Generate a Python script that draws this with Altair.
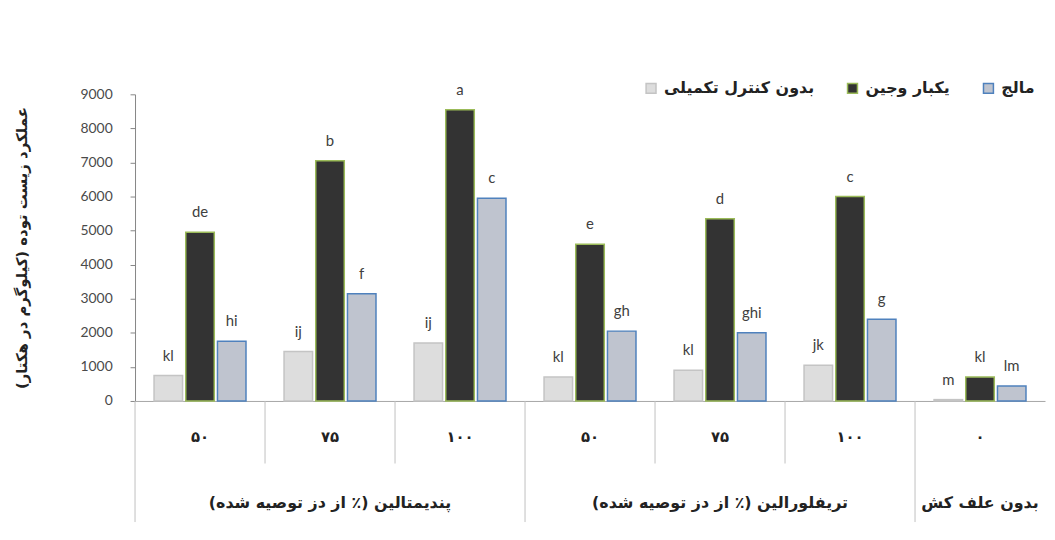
import altair as alt
import pandas as pd

# ---------------- data ----------------
groups = ["p50", "p75", "p100", "t50", "t75", "t100", "n0"]
group_labels = ["۵۰", "۷۵", "۱۰۰", "۵۰", "۷۵", "۱۰۰", "۰"]
series = ["بدون کنترل تکمیلی", "یکبار وجین", "مالج"]
no_control = [750, 1450, 1700, 700, 900, 1050, 40]
once_weeding = [4950, 7050, 8550, 4600, 5350, 6000, 700]
weed_free = [1750, 3150, 5950, 2050, 2000, 2400, 440]
letters_nc = ["kl", "ij", "ij", "kl", "kl", "jk", "m"]
letters_ow = ["de", "b", "a", "e", "d", "c", "kl"]
letters_wf = ["hi", "f", "c", "gh", "ghi", "g", "lm"]
outer_keys = ["p75", "t75", "n0"]
outer_labels = [
    "پندیمتالین (٪ از دز توصیه شده)\u200f",
    "تریفلورالین (٪ از دز توصیه شده)\u200f",
    "بدون علف کش",
]
sep_keys = groups
sep_long = [True, False, False, True, False, False, True]
y_ticks = [0, 1000, 2000, 3000, 4000, 5000, 6000, 7000, 8000, 9000]
y_title = "عملکرد زیست توده (کیلوگرم در هکتار)\u200f"

# ---------------- tables ----------------
rows = []
for vals, lets, s in [(no_control, letters_nc, series[0]),
                      (once_weeding, letters_ow, series[1]),
                      (weed_free, letters_wf, series[2])]:
    for g, v, l in zip(groups, vals, lets):
        rows.append({"cat": g, "series": s, "value": v, "letter": l})
bars_df = pd.DataFrame(rows)
inner_df = pd.DataFrame({"cat": groups, "label": group_labels})
outer_df = pd.DataFrame({"cat": outer_keys, "label": outer_labels})
sep_df = pd.DataFrame({"cat": sep_keys, "long": sep_long})

PH = 309
PW = 917
FA = "DejaVu Sans"

fill_range = ["#dddddd", "#333333", "#bfc4cf"]
stroke_range = ["#c4c4c4", "#9bbb59", "#4f81bd"]

leg = alt.Legend(orient="none", legendX=512, legendY=-14, direction="horizontal",
                 title=None, symbolType="square", symbolSize=100,
                 labelFont=FA, labelFontWeight="bold", labelFontSize=16,
                 labelColor="#222222", columnPadding=30, symbolStrokeWidth=1.5,
                 labelLimit=400, labelOffset=5)

x_enc = alt.X("cat:N", sort=groups,
              scale=alt.Scale(paddingInner=0, paddingOuter=0),
              axis=alt.Axis(labels=False, ticks=False, title=None,
                            domainColor="#a6a6a6", domainWidth=1))
xo_enc = alt.XOffset("series:N", sort=series,
                     scale=alt.Scale(paddingInner=0.1, paddingOuter=0.6))
y_axis = alt.Axis(values=y_ticks, format="d", grid=False,
                  labelOverlap=False, tickCount=10,
                  domainColor="#868686", tickColor="#868686", tickSize=5,
                  labelPadding=18, labelFont="Lato", labelFontSize=14,
                  labelColor="#4a4a4a",
                  title=y_title, titleFont=FA, titleFontWeight="bold",
                  titleFontSize=15, titleColor="#222222",
                  titleX=-114, titleY=PH / 2, titleAngle=-90,
                  titleAlign="center", titleBaseline="middle")
y_scale = alt.Scale(domain=[0, 9000], nice=False)

bars = alt.Chart(bars_df).mark_bar(strokeWidth=1.5).encode(
    x=x_enc,
    xOffset=xo_enc,
    y=alt.Y("value:Q", scale=y_scale, axis=y_axis),
    color=alt.Color("series:N", sort=series,
                    scale=alt.Scale(domain=series, range=fill_range), legend=leg),
    stroke=alt.Stroke("series:N", sort=series,
                      scale=alt.Scale(domain=series, range=stroke_range), legend=leg),
)

letters = alt.Chart(bars_df).mark_text(
    baseline="bottom", dy=-12, font="Lato", fontSize=15, color="#404040"
).encode(
    x=x_enc,
    xOffset=xo_enc,
    y=alt.Y("value:Q", scale=y_scale, axis=y_axis),
    text="letter:N",
)

seps_short = alt.Chart(sep_df).transform_filter("!datum.long").mark_rule(
    color="#bfbfbf", strokeWidth=1
).encode(
    x=alt.X("cat:N", sort=groups, bandPosition=0),
    y=alt.value(PH),
    y2=alt.value(PH + 63),
)
seps_long = alt.Chart(sep_df).transform_filter("datum.long").mark_rule(
    color="#bfbfbf", strokeWidth=1
).encode(
    x=alt.X("cat:N", sort=groups, bandPosition=0),
    y=alt.value(PH),
    y2=alt.value(PH + 122),
)

inner = alt.Chart(inner_df).mark_text(
    font=FA, fontWeight="bold", fontSize=15, color="#222222", baseline="middle"
).encode(
    x=alt.X("cat:N", sort=groups),
    y=alt.value(PH + 36),
    text="label:N",
)
outer = alt.Chart(outer_df).mark_text(
    font=FA, fontWeight="bold", fontSize=16, color="#222222", baseline="middle"
).encode(
    x=alt.X("cat:N", sort=groups),
    y=alt.value(PH + 103),
    text="label:N",
)

chart = alt.layer(bars, letters, seps_short, seps_long, inner, outer).properties(
    width=PW, height=PH,
    background="white",
    autosize=alt.AutoSizeParams(type="none"),
    padding={"left": 128, "top": 85, "right": 2, "bottom": 124},
).configure_view(strokeWidth=0, stroke="transparent")

chart.save("out.html", embed_options={"renderer": "svg", "actions": False})
